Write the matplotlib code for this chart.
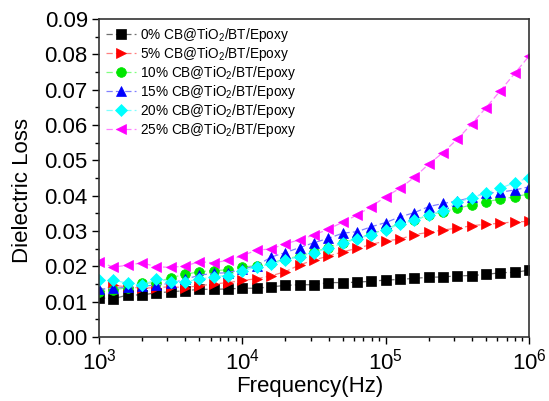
import numpy as np
import matplotlib
matplotlib.use("Agg")
import matplotlib.pyplot as plt
from matplotlib.ticker import MultipleLocator, LogLocator, NullFormatter

plt.rcParams['font.family'] = ['Liberation Sans', 'DejaVu Sans']
plt.rcParams['mathtext.fontset'] = 'custom'
plt.rcParams['mathtext.rm'] = 'Liberation Sans'

freq_exp = [3.0, 3.1, 3.2, 3.3, 3.4, 3.5, 3.6, 3.7, 3.8, 3.9,
            4.0, 4.1, 4.2, 4.3, 4.4, 4.5, 4.6, 4.7, 4.8, 4.9,
            5.0, 5.1, 5.2, 5.3, 5.4, 5.5, 5.6, 5.7, 5.8, 5.9, 6.0]

loss_0 = [0.0111, 0.0108, 0.0119, 0.0119, 0.0125, 0.0128, 0.0131, 0.0135, 0.0135, 0.0136,
          0.0138, 0.0138, 0.0142, 0.0146, 0.0148, 0.0148, 0.0154, 0.0154, 0.0155, 0.0158,
          0.0161, 0.0163, 0.0166, 0.0169, 0.0170, 0.0173, 0.0174, 0.0177, 0.0182, 0.0183, 0.0189]
loss_5 = [0.0130, 0.0146, 0.0142, 0.0138, 0.0140, 0.0142, 0.0140, 0.0145, 0.0150, 0.0154,
          0.0160, 0.0165, 0.0173, 0.0185, 0.0204, 0.0218, 0.0229, 0.0241, 0.0251, 0.0262,
          0.0272, 0.0277, 0.0290, 0.0296, 0.0303, 0.0308, 0.0315, 0.0319, 0.0322, 0.0326, 0.0327]
loss_10 = [0.0128, 0.0133, 0.0140, 0.0152, 0.0154, 0.0168, 0.0177, 0.0185, 0.0188, 0.0190,
           0.0198, 0.0202, 0.0209, 0.0221, 0.0229, 0.0241, 0.0253, 0.0267, 0.0279, 0.0292,
           0.0305, 0.0322, 0.0331, 0.0345, 0.0355, 0.0364, 0.0374, 0.0383, 0.0390, 0.0397, 0.0405]
loss_15 = [0.0135, 0.0138, 0.0141, 0.0144, 0.0147, 0.0152, 0.0163, 0.0175, 0.0180, 0.0182,
           0.0192, 0.0202, 0.0226, 0.0239, 0.0253, 0.0267, 0.0279, 0.0294, 0.0298, 0.0312,
           0.0324, 0.0340, 0.0352, 0.0369, 0.0378, 0.0385, 0.0395, 0.0407, 0.0410, 0.0416, 0.0425]
loss_20 = [0.0162, 0.0161, 0.0152, 0.0147, 0.0163, 0.0157, 0.0157, 0.0163, 0.0171, 0.0174,
           0.0188, 0.0197, 0.0207, 0.0218, 0.0227, 0.0239, 0.0251, 0.0265, 0.0278, 0.0290,
           0.0303, 0.0320, 0.0330, 0.0345, 0.0358, 0.0381, 0.0394, 0.0407, 0.0421, 0.0437, 0.0451]
loss_25 = [0.0212, 0.0198, 0.0203, 0.0210, 0.0199, 0.0197, 0.0201, 0.0213, 0.0210, 0.0217,
           0.0230, 0.0246, 0.0249, 0.0264, 0.0275, 0.0289, 0.0305, 0.0325, 0.0345, 0.0369,
           0.0397, 0.0421, 0.0452, 0.0489, 0.0522, 0.0560, 0.0603, 0.0649, 0.0697, 0.0746, 0.0795]

labels = ['0% CB@TiO$_2$/BT/Epoxy', '5% CB@TiO$_2$/BT/Epoxy', '10% CB@TiO$_2$/BT/Epoxy',
          '15% CB@TiO$_2$/BT/Epoxy', '20% CB@TiO$_2$/BT/Epoxy', '25% CB@TiO$_2$/BT/Epoxy']

freq = [10 ** e for e in freq_exp]
series = [loss_0, loss_5, loss_10, loss_15, loss_20, loss_25]
mcolors = ['#000000', '#ff0000', '#00e600', '#0000ff', '#00ffff', '#ff00ff']
lcolors = ['#707070', '#ff8080', '#80ff80', '#8080ff', '#80ffff', '#ff80ff']
markers = ['s', '>', 'o', '^', 'D', '<']
msizes = [6.5, 7.5, 7, 7.5, 6, 7.5]

fig = plt.figure(figsize=(5.49, 4.01), dpi=100)
ax = fig.add_axes([0.1803, 0.1596, 0.7833, 0.793])

for y, mc, lc, m, ms, lab in zip(series, mcolors, lcolors, markers, msizes, labels):
    ax.plot(freq, y, color=lc, linestyle=(0, (5, 2.5)), linewidth=0.9,
            marker=m, markersize=ms, markerfacecolor=mc, markeredgecolor=mc,
            markeredgewidth=0.5, label=lab)

ax.set_xscale('log')
ax.set_xlim(1e3, 1e6)
ax.set_ylim(0, 0.09)
ax.yaxis.set_major_locator(MultipleLocator(0.01))
ax.yaxis.set_minor_locator(MultipleLocator(0.005))
ax.yaxis.set_major_formatter(matplotlib.ticker.FormatStrFormatter('%.2f'))
ax.xaxis.set_major_locator(LogLocator(base=10, numticks=10))
ax.xaxis.set_minor_locator(LogLocator(base=10, subs=np.arange(2, 10), numticks=20))
ax.xaxis.set_minor_formatter(NullFormatter())

ax.tick_params(which='major', direction='out', length=5, width=1, labelsize=16,
               top=False, right=False)
ax.tick_params(axis='y', which='major', pad=3)
ax.tick_params(axis='x', which='major', pad=3)
ax.tick_params(which='minor', direction='out', length=3, width=1, top=False, right=False)
for s in ax.spines.values():
    s.set_linewidth(1.2)
    s.set_color('#333333')

ax.set_xlabel('Frequency(Hz)', fontsize=16)
ax.set_ylabel('Dielectric Loss', fontsize=16)
ax.xaxis.set_label_coords(0.49, -0.122)
ax.yaxis.set_label_coords(-0.153, 0.46)

leg = ax.legend(loc='upper left', frameon=False, fontsize=9.8, handlelength=2.2,
                handletextpad=0.3, labelspacing=0.08, borderaxespad=0.1,
                bbox_to_anchor=(0.0, 1.0))

fig.savefig('out.png', dpi=100)
